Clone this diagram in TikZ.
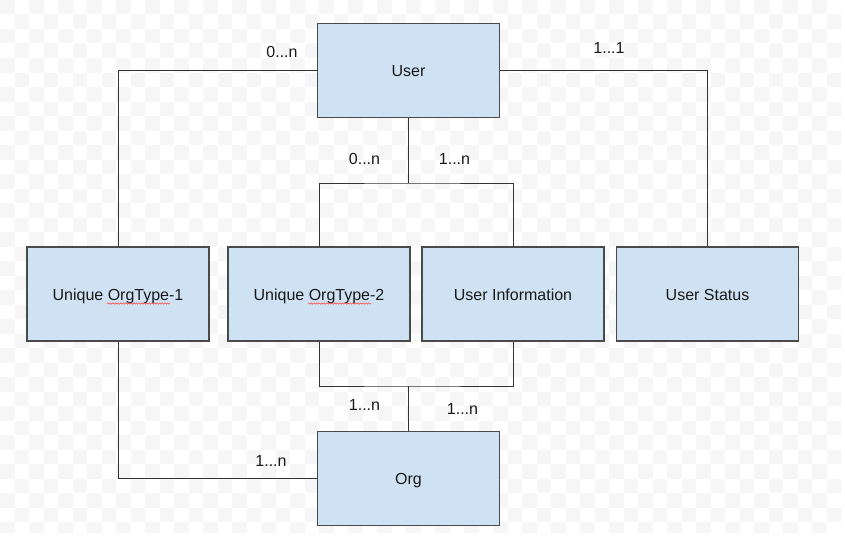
\documentclass[tikz,border=0pt]{standalone}
\usepackage{fontspec}
\setmainfont{Liberation Sans}
\usetikzlibrary{calc,decorations.pathmorphing}

\definecolor{boxfill}{HTML}{CFE2F3}
\definecolor{boxline}{HTML}{4A4A4A}
\definecolor{wire}{HTML}{333333}
\definecolor{chk}{HTML}{F6F6F6}

\tikzset{
  entity/.style={draw=boxline, fill=boxfill, line width=1.1pt,
    minimum width=182pt, minimum height=94pt, inner sep=0pt,
    text height=14.5pt, text depth=2pt,
    font=\fontsize{16}{19}\selectfont, text=black!90},
  card/.style={font=\fontsize{16}{19}\selectfont, text=black!90, inner sep=0pt},
  link/.style={draw=wire, line width=1pt},
  squig/.style={draw=red!75, line width=0.5pt,
    decorate, decoration={snake, amplitude=0.7pt, segment length=2.6pt}}
}

\begin{document}
\begin{tikzpicture}[x=1pt, y=-1pt]

  \useasboundingbox (0,0) rectangle (845,535);

  % faint checkerboard background
  \begin{scope}
    \clip (0,0) rectangle (841,532);
    \foreach \i in {0,...,57} {
      \foreach \j in {0,...,36} {
        \pgfmathtruncatemacro{\k}{mod(\i+\j,2)}
        \ifnum\k=0
          \fill[chk] (14.5*\i,14.5*\j) rectangle ++(14.5,14.5);
        \fi
      }
    }
  \end{scope}

  % entities
  \node[entity] (user)   at (408.5, 70.5) {User};
  \node[entity] (ot1)    at (118, 294)    {Unique OrgType-1};
  \node[entity] (ot2)    at (319, 294)    {Unique OrgType-2};
  \node[entity] (info)   at (513, 294)    {User Information};
  \node[entity] (status) at (707.5, 294)  {User Status};
  \node[entity] (org)    at (408.5, 478.5) {Org};

  % spell-check marks
  \draw[squig] ($(ot1.center)+(-11,9.5)$) -- ($(ot1.center)+(52,9.5)$);
  \draw[squig] ($(ot2.center)+(-11,9.5)$) -- ($(ot2.center)+(52,9.5)$);

  % junctions
  \coordinate (ujoin) at (user.south |- 0,183);
  \coordinate (ojoin) at (org.north |- 0,386);

  % relations
  \draw[link] (user.west) -| (ot1.north);
  \draw[link] (user.east) -| (status.north);
  \draw[link] (user.south) -- (ujoin);
  \draw[link] (ot2.north) |- (ujoin) -| (info.north);
  \draw[link] (ot2.south) |- (ojoin) -| (info.south);
  \draw[link] (ojoin) -- (org.north);
  \draw[link] (ot1.south) |- (org.west);

  % cardinalities
  \node[card] (c1) at (282, 52)   {0...n};
  \node[card] (c2) at (609, 48)   {1...1};
  \node[card] (c3) at (364.5, 159) {0...n};
  \node[card] (c4) at (454.5, 159) {1...n};
  \node[card] (c5) at (364.5, 405) {1...n};
  \node[card] (c6) at (462.5, 409) {1...n};
  \node[card] (c7) at (271, 461)   {1...n};

\end{tikzpicture}
\end{document}
